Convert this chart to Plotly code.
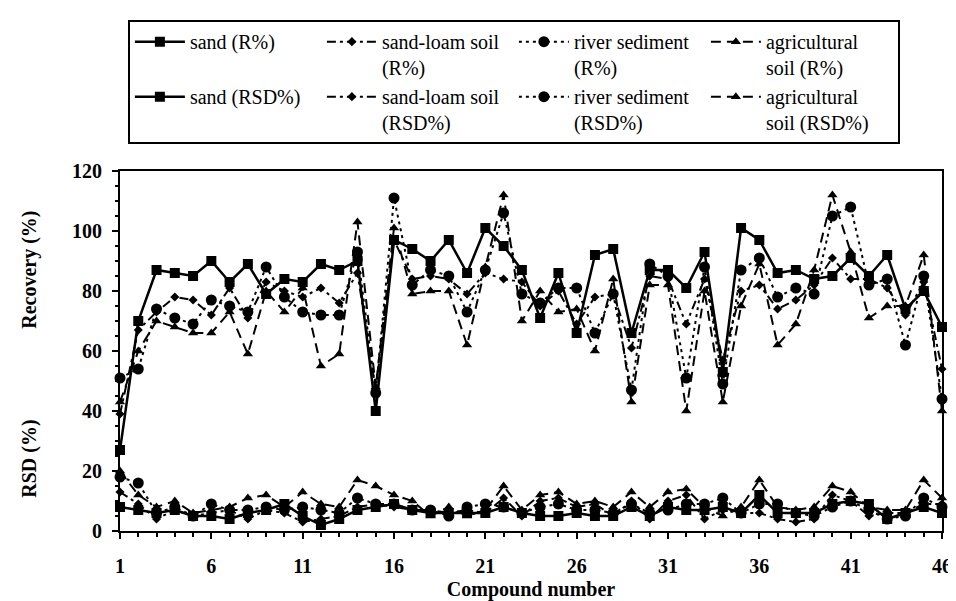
import plotly.graph_objects as go

compounds = list(range(1, 47))
x_ticks = [1, 6, 11, 16, 21, 26, 31, 36, 41, 46]
y_ticks = [0, 20, 40, 60, 80, 100, 120]

sand_R = [27, 70, 87, 86, 85, 90, 83, 89, 79, 84,
          83, 89, 87, 90, 40, 97, 94, 90, 97, 86,
          101, 95, 87, 71, 86, 66, 92, 94, 66, 87,
          87, 81, 93, 53, 101, 97, 86, 87, 84, 85,
          91, 85, 92, 74, 80, 68]
loam_R = [39, 67, 73, 78, 77, 72, 81, 71, 83, 80,
          78, 81, 76, 86, 47, 97, 84, 85, 84, 79,
          86, 84, 83, 75, 80, 69, 78, 79, 61, 85,
          84, 69, 84, 57, 80, 82, 74, 77, 82, 91,
          84, 84, 81, 72, 83, 54]
river_R = [51, 54, 74, 71, 69, 77, 75, 73, 88, 78,
           73, 72, 72, 93, 46, 111, 82, 87, 85, 73,
           87, 106, 79, 76, 81, 81, 66, 79, 47, 89,
           85, 51, 88, 49, 87, 91, 78, 81, 79, 105,
           108, 82, 84, 62, 85, 44]
agri_R = [43, 60, 70, 68, 66, 66, 73, 59, 80, 73,
          81, 55, 59, 103, 48, 101, 79, 80, 80, 62,
          88, 112, 70, 80, 73, 74, 60, 84, 43, 82,
          82, 40, 80, 43, 75, 89, 62, 69, 87, 112,
          93, 71, 75, 75, 92, 40]

sand_RSD = [8, 7, 6, 7, 5, 5, 4, 6, 7, 9,
            5, 2, 4, 7, 8, 9, 7, 6, 6, 6,
            6, 8, 6, 5, 5, 6, 5, 5, 8, 5,
            8, 7, 7, 8, 6, 12, 6, 6, 6, 9,
            10, 9, 4, 6, 8, 6]
loam_RSD = [13, 9, 4, 7, 5, 6, 7, 4, 7, 6,
            3, 4, 5, 8, 9, 8, 7, 7, 6, 7,
            6, 11, 5, 10, 11, 8, 9, 5, 10, 4,
            10, 12, 4, 7, 6, 6, 4, 3, 4, 12,
            10, 5, 6, 6, 9, 9]
river_RSD = [18, 16, 6, 8, 5, 9, 7, 7, 8, 7,
             8, 7, 6, 11, 9, 9, 7, 7, 5, 8,
             9, 8, 6, 8, 9, 7, 7, 6, 9, 6,
             7, 9, 9, 11, 6, 9, 9, 6, 5, 8,
             10, 7, 4, 5, 11, 8]
agri_RSD = [20, 12, 8, 10, 6, 7, 8, 11, 12, 8,
            13, 9, 8, 17, 15, 12, 10, 5, 8, 5,
            7, 15, 7, 12, 13, 9, 10, 8, 13, 8,
            13, 14, 8, 5, 8, 17, 8, 7, 8, 15,
            13, 8, 7, 7, 17, 11]

names = ["sand (R%)", "sand-loam soil<br>(R%)", "river sediment<br>(R%)", "agricultural<br>soil (R%)",
         "sand (RSD%)", "sand-loam soil<br>(RSD%)", "river sediment<br>(RSD%)", "agricultural<br>soil (RSD%)"]

FONT = "Liberation Serif"
styles = [
    dict(dash="solid", width=2.5, symbol="square", size=10),
    dict(dash="9px,4px,3px,4px", width=2, symbol="diamond", size=7),
    dict(dash="3px,4px", width=2, symbol="circle", size=11),
    dict(dash="10px,6px", width=2, symbol="triangle-up", size=9),
]

series = [sand_R, loam_R, river_R, agri_R, sand_RSD, loam_RSD, river_RSD, agri_RSD]

fig = go.Figure()
for i, (name, vals) in enumerate(zip(names, series)):
    st = styles[i % 4]
    fig.add_trace(go.Scatter(
        x=compounds, y=vals, name=name, mode="lines+markers",
        line=dict(color="black", width=st["width"], dash=st["dash"]),
        marker=dict(symbol=st["symbol"], size=st["size"], color="black"),
        cliponaxis=False,
    ))

fig.update_layout(
    width=956, height=601,
    margin=dict(l=112, r=13, t=163, b=78),
    paper_bgcolor="white", plot_bgcolor="white",
    font=dict(family=FONT, size=20, color="black"),
    legend=dict(
        orientation="h", x=0.0096, y=1.419, xanchor="left", yanchor="top",
        entrywidth=127, itemwidth=50, valign="top",
        bordercolor="black", borderwidth=2, bgcolor="white",
        font=dict(family=FONT, size=20, color="black"),
        tracegroupgap=0,
    ),
    xaxis=dict(
        range=[1, 46], tickvals=x_ticks, ticktext=[str(v) for v in x_ticks],
        ticks="outside", ticklen=6, tickwidth=1.5, tickcolor="black",
        minor=dict(dtick=1, ticks="outside", ticklen=4, tickcolor="black"),
        showline=True, linecolor="black", linewidth=2, mirror=True,
        showgrid=False, zeroline=False,
        tickfont=dict(family=FONT, size=20, weight="bold"),
        ticklabelstandoff=10,
        title=dict(text="Compound number", font=dict(family=FONT, size=20, weight="bold"), standoff=6),
    ),
    yaxis=dict(
        range=[0, 120], tickvals=y_ticks,
        ticks="outside", ticklen=6, tickwidth=1.5, tickcolor="black",
        minor=dict(dtick=5, ticks="outside", ticklen=3, tickcolor="black"),
        showline=True, linecolor="black", linewidth=2, mirror=True,
        showgrid=False, zeroline=False,
        tickfont=dict(family=FONT, size=20, weight="bold"),
        ticklabelstandoff=6,
    ),
    annotations=[
        dict(text="Recovery (%)", x=-0.111, y=0.725, xref="paper", yref="paper",
             textangle=-90, showarrow=False, xanchor="center", yanchor="middle",
             font=dict(family=FONT, size=20, weight="bold")),
        dict(text="RSD (%)", x=-0.111, y=0.2, xref="paper", yref="paper",
             textangle=-90, showarrow=False, xanchor="center", yanchor="middle",
             font=dict(family=FONT, size=20, weight="bold")),
    ],
)

fig.write_html("out.html")
